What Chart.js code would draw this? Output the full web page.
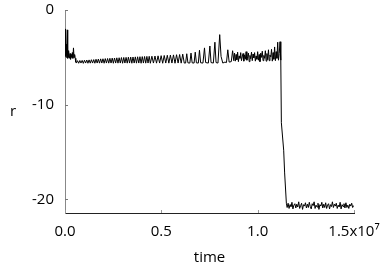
<!DOCTYPE html>
<html>
<head>
<meta charset="utf-8">
<script src="https://cdn.jsdelivr.net/npm/chart.js@4"></script>
<style>
  html, body { margin: 0; padding: 0; background: #fff; }
  #wrap { width: 382px; height: 268px; }
</style>
</head>
<body>
<div id="wrap"><canvas id="chart" width="382" height="268"></canvas></div>
<script>
// time is in units of 1e5, r is the series value

// start-up burst
const timeStart = [0, 0.2, 0.4, 0.6, 0.8, 1.0, 1.2, 1.4, 1.6, 1.8,
    2.0, 2.3, 2.6, 2.9, 3.2, 3.5, 3.8, 4.1, 4.4, 4.7,
    5.0, 5.3, 5.6, 5.9];
const rStart = [-2.0, -4.9, -2.3, -5.0, -3.6, -4.8, -2.1, -5.1, -4.3, -5.0,
    -4.4, -5.1, -4.6, -5.2, -4.7, -5.0, -4.5, -5.1, -4.0, -5.0,
    -4.7, -5.1, -5.5, -5.6];

// fast small oscillation
const timeFast = [6.5, 7.1, 7.7, 8.3, 8.9, 9.5, 10.1, 10.7, 11.3, 11.9,
    12.5, 13.1, 13.7, 14.3, 14.9, 15.5, 16.1, 16.7, 17.3, 17.9,
    18.5, 19.1, 19.7, 20.3, 20.9, 21.5, 22.1, 22.7, 23.3, 23.9,
    24.5, 25.1, 25.7, 26.3, 26.9, 27.5, 28.1, 28.7, 29.3, 29.9,
    30.5, 31.1, 31.7, 32.3, 32.9, 33.5, 34.1, 34.7, 35.3, 35.9,
    36.5, 37.1, 37.7, 38.3, 38.9, 39.5, 40.1, 40.7, 41.3, 41.9,
    42.5, 43.1, 43.7, 44.3];
const rFast = [-5.35, -5.62, -5.33, -5.60, -5.32, -5.63, -5.30, -5.60, -5.28, -5.62,
    -5.27, -5.61, -5.25, -5.60, -5.24, -5.62, -5.20, -5.60, -5.18, -5.61,
    -5.16, -5.60, -5.15, -5.62, -5.13, -5.60, -5.12, -5.61, -5.10, -5.60,
    -5.08, -5.62, -5.07, -5.60, -5.05, -5.61, -5.04, -5.60, -5.02, -5.62,
    -5.01, -5.60, -5.00, -5.61, -4.98, -5.60, -4.97, -5.62, -4.96, -5.60,
    -4.95, -5.61, -4.94, -5.60, -4.93, -5.62, -4.92, -5.60, -4.91, -5.61,
    -4.90, -5.60, -4.89, -5.62];

// slower, growing spikes
const timeSlow = [45.1, 45.9, 46.7, 47.5, 48.3, 49.1, 49.9, 50.7, 51.5, 52.3,
    53.1, 53.9, 54.7, 55.5, 56.3, 57.1, 57.9, 58.7, 59.5, 60.3,
    61.1, 61.9, 62.6, 63.2, 63.8, 64.8, 65.4, 66.0, 67.0, 67.6,
    68.2, 69.2, 69.8, 70.4, 71.6, 72.4, 73.0, 74.4, 75.2, 75.8,
    77.0, 77.8, 78.4, 79.4, 80.3, 81.0, 81.9, 83.0, 83.8, 84.5,
    85.2, 86.3, 87.0, 87.6];
const rSlow = [-4.88, -5.60, -4.86, -5.61, -4.84, -5.60, -4.82, -5.62, -4.80, -5.60,
    -4.78, -5.61, -4.76, -5.60, -4.74, -5.62, -4.72, -5.60, -4.70, -5.61,
    -4.66, -5.60, -5.60, -4.62, -5.58, -5.60, -4.55, -5.58, -5.60, -4.45,
    -5.58, -5.60, -4.25, -5.57, -5.60, -4.00, -5.55, -5.60, -3.80, -5.55,
    -5.60, -3.40, -5.55, -5.60, -2.60, -4.90, -5.60, -5.50, -5.55, -4.20,
    -5.50, -5.45, -4.30, -5.35];

// noisy plateau before the collapse
const timeNoisy = [88.0, 88.4, 88.8, 89.2, 89.6, 90.0, 90.4, 90.8, 91.2, 91.6,
    92.0, 92.4, 92.8, 93.2, 93.6, 94.0, 94.4, 94.8, 95.2, 95.6,
    96.0, 96.4, 96.8, 97.2, 97.6, 98.0, 98.4, 98.8, 99.2, 99.6,
    100.0, 100.4, 100.8, 101.2, 101.6, 102.0, 102.4, 102.8, 103.2, 103.6,
    104.0, 104.4, 104.8, 105.2, 105.6, 106.0, 106.4, 106.8, 107.2, 107.6,
    108.0, 108.4, 108.8, 109.2, 109.6, 110.0, 110.4, 110.8, 111.2, 111.6];
const rNoisy = [-4.55, -5.40, -4.70, -5.25, -4.45, -5.45, -4.85, -5.10, -4.50, -5.35,
    -4.95, -4.60, -5.40, -4.75, -5.20, -4.40, -5.30, -4.90, -4.55, -5.45,
    -4.80, -5.15, -4.45, -5.35, -4.65, -5.05, -4.50, -5.40, -4.85, -5.20,
    -4.40, -5.30, -4.70, -5.45, -4.55, -5.00, -4.35, -5.35, -4.80, -5.10,
    -4.30, -5.40, -4.60, -5.25, -4.20, -5.35, -4.75, -4.95, -4.15, -5.40,
    -4.50, -5.20, -3.90, -5.35, -4.40, -5.10, -3.40, -5.30, -4.60, -3.35];

// collapse
const timeDrop = [112.0, 112.3, 113.5, 114.0, 114.9];
const rDrop = [-5.30, -11.9, -14.8, -17.2, -20.4];

// low state
const timeLow = [115.3, 115.8, 116.3, 116.8, 117.3, 117.8, 118.3, 118.8, 119.3, 119.8,
    120.3, 120.8, 121.3, 121.8, 122.3, 122.8, 123.3, 123.8, 124.3, 124.8,
    125.3, 125.8, 126.3, 126.8, 127.3, 127.8, 128.3, 128.8, 129.3, 129.8,
    130.3, 130.8, 131.3, 131.8, 132.3, 132.8, 133.3, 133.8, 134.3, 134.8,
    135.3, 135.8, 136.3, 136.8, 137.3, 137.8, 138.3, 138.8, 139.3, 139.8,
    140.3, 140.8, 141.3, 141.8, 142.3, 142.8, 143.3, 143.8, 144.3, 144.8,
    145.3, 145.8, 146.3, 146.8, 147.3, 147.8, 148.3, 148.8, 149.3, 149.8];
const rLow = [-20.85, -20.40, -20.95, -20.55, -20.75, -20.30, -21.00, -20.60, -20.45, -20.90,
    -20.50, -20.80, -20.25, -20.95, -20.65, -20.40, -21.05, -20.55, -20.70, -20.35,
    -20.90, -20.50, -20.85, -20.30, -20.75, -21.00, -20.45, -20.65, -20.25, -20.95,
    -20.60, -20.80, -20.40, -21.05, -20.55, -20.70, -20.30, -20.90, -20.50, -20.85,
    -20.35, -20.95, -20.60, -20.45, -21.00, -20.55, -20.75, -20.25, -20.85, -20.50,
    -20.70, -20.40, -20.95, -20.60, -20.80, -20.30, -21.00, -20.55, -20.75, -20.45,
    -20.90, -20.35, -20.85, -20.60, -20.95, -20.50, -20.70, -20.40, -20.85, -20.65];

const xTicks = [0, 50, 100, 150];
const xTickLabels = ['0.0', '0.5', '1.0', '1.5x10\u2077'];
const yTicks = [-20, -10, 0];
const yTickLabels = ['-20', '-10', '0'];

const time = [].concat(timeStart, timeFast, timeSlow, timeNoisy, timeDrop, timeLow);
const r = [].concat(rStart, rFast, rSlow, rNoisy, rDrop, rLow);

const FONT = '"Open Sans", "DejaVu Sans", sans-serif';

// inward tick marks and the unrotated "r" label
const axisExtras = {
    id: 'axisExtras',
    afterDraw(chart) {
        const ctx = chart.ctx;
        const xs = chart.scales.x, ys = chart.scales.y;
        const area = chart.chartArea;
        ctx.save();
        ctx.lineWidth = 1;
        ctx.strokeStyle = '#777';
        yTicks.forEach(function(v) {
            const py = Math.round(ys.getPixelForValue(v)) + 0.5;
            ctx.beginPath();
            ctx.moveTo(area.left, py);
            ctx.lineTo(area.left + 3, py);
            ctx.stroke();
        });
        ctx.strokeStyle = '#999';
        xTicks.forEach(function(v) {
            const px = Math.round(xs.getPixelForValue(v)) + 0.5;
            ctx.beginPath();
            ctx.moveTo(px, area.bottom);
            ctx.lineTo(px, area.bottom - 3);
            ctx.stroke();
        });
        ctx.fillStyle = '#000';
        ctx.font = '15px ' + FONT;
        ctx.textAlign = 'center';
        ctx.textBaseline = 'middle';
        ctx.fillText('r', 13, (area.top + area.bottom) / 2);
        ctx.restore();
    }
};

new Chart(document.getElementById('chart'), {
    type: 'line',
    data: {
        datasets: [{
            data: time.map(function(t, i) { return { x: t, y: r[i] }; }),
            borderColor: '#000',
            borderWidth: 1,
            pointRadius: 0,
            tension: 0,
            fill: false
        }]
    },
    options: {
        responsive: false,
        animation: false,
        layout: { padding: { top: 10, right: 28, left: 0, bottom: 0 } },
        plugins: { legend: { display: false }, tooltip: { enabled: false } },
        scales: {
            x: {
                type: 'linear',
                min: 0,
                max: 150,
                afterBuildTicks: function(scale) {
                    scale.ticks = xTicks.map(function(v) { return { value: v }; });
                },
                afterFit: function(scale) {
                    scale.height = 55;
                    scale.paddingLeft = 0;
                    scale.paddingRight = 0;
                },
                grid: { display: false, drawTicks: false },
                border: { display: true, color: '#222', width: 1 },
                ticks: {
                    autoSkip: false,
                    maxRotation: 0,
                    padding: 10,
                    color: '#000',
                    font: { family: FONT, size: 15 },
                    callback: function(value, index) { return xTickLabels[index]; }
                },
                title: {
                    display: true,
                    text: 'time',
                    color: '#000',
                    font: { family: FONT, size: 15 },
                    padding: { top: 0, bottom: 1 }
                }
            },
            y: {
                type: 'linear',
                min: -21.43,
                max: 0,
                afterBuildTicks: function(scale) {
                    scale.ticks = yTicks.map(function(v) { return { value: v }; });
                },
                afterFit: function(scale) {
                    scale.width = 65;
                    scale.paddingTop = 0;
                    scale.paddingBottom = 0;
                },
                grid: { display: false, drawTicks: false },
                border: { display: true, color: '#888', width: 1 },
                ticks: {
                    autoSkip: false,
                    padding: 11,
                    color: '#000',
                    font: { family: FONT, size: 15 },
                    callback: function(value, index) { return yTickLabels[index]; }
                }
            }
        }
    },
    plugins: [axisExtras]
});
</script>
</body>
</html>
